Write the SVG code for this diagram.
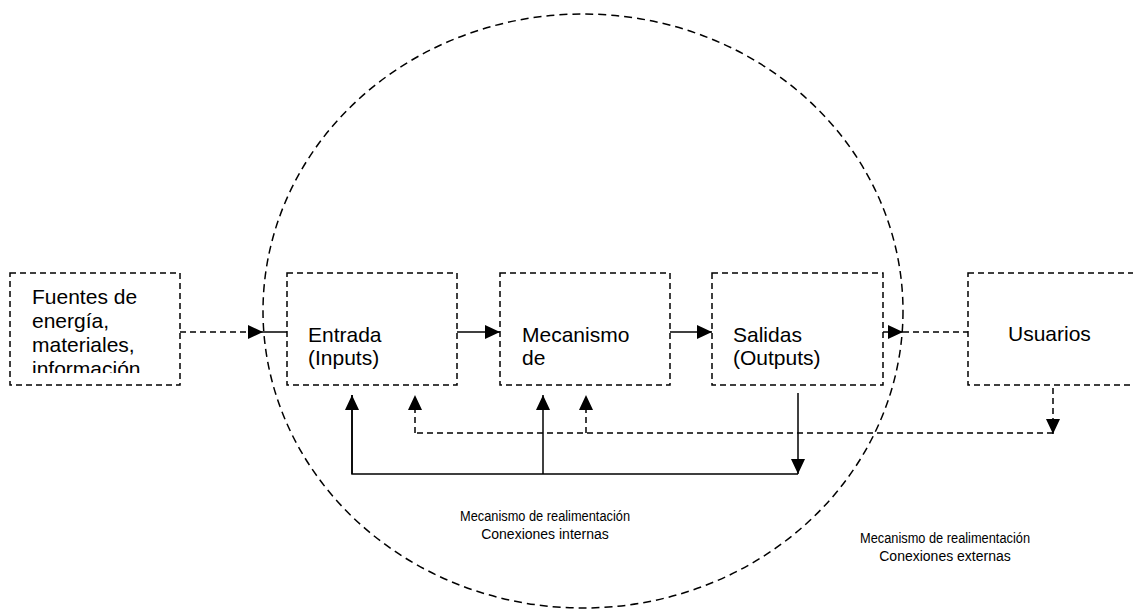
<svg xmlns="http://www.w3.org/2000/svg" width="1133" height="611" viewBox="0 0 1133 611">
<style>
.box{fill:none;stroke:#000;stroke-width:1.5;stroke-dasharray:6,4}
.t{font-family:"Liberation Sans",Arial,sans-serif;font-size:21px;fill:#000}
.s{font-family:"Liberation Sans",Arial,sans-serif;font-size:14px;fill:#000;text-anchor:middle}
.sol{fill:none;stroke:#000;stroke-width:1.5}
.dsh{fill:none;stroke:#000;stroke-width:1.5;stroke-dasharray:6,4}
</style>
<defs>
<marker id="ah" markerWidth="15" markerHeight="14" refX="15" refY="7" orient="auto" markerUnits="userSpaceOnUse">
<path d="M0,0 L15,7 L0,14 z" fill="#000"/>
</marker>
<clipPath id="cf"><rect x="10" y="273" width="170" height="100"/></clipPath>
</defs>
<rect width="1133" height="611" fill="#fff"/>
<g id="system">
<ellipse cx="583" cy="311" rx="320" ry="297" fill="none" stroke="#000" stroke-width="1.5" stroke-dasharray="8,5"/>
</g>
<g id="fuentes">
<rect class="box" x="10" y="273" width="170" height="112"/>
<g clip-path="url(#cf)">
<text class="t" x="32" y="304">Fuentes de</text>
<text class="t" x="32" y="328">energía,</text>
<text class="t" x="32" y="352">materiales,</text>
<text class="t" x="32" y="376">información</text>
</g>
</g>
<g id="entrada">
<rect class="box" x="287" y="273" width="170" height="112"/>
<text class="t" x="308" y="342">Entrada</text>
<text class="t" x="308" y="365">(Inputs)</text>
</g>
<g id="mecanismo">
<rect class="box" x="500" y="273" width="170" height="112"/>
<text class="t" x="522" y="342">Mecanismo</text>
<text class="t" x="522" y="365">de</text>
</g>
<g id="salidas">
<rect class="box" x="712" y="273" width="171" height="112"/>
<text class="t" x="733" y="342">Salidas</text>
<text class="t" x="733" y="365">(Outputs)</text>
</g>
<g id="usuarios">
<rect class="box" x="968" y="273" width="180" height="112"/>
<text class="t" x="1008" y="341">Usuarios</text>
</g>
<g id="connectors">
<line class="dsh" x1="180" y1="332" x2="263" y2="332" marker-end="url(#ah)"/>
<line class="sol" x1="263" y1="332" x2="287" y2="332"/>
<line class="sol" x1="457" y1="332" x2="500" y2="332" marker-end="url(#ah)"/>
<line class="sol" x1="670" y1="332" x2="712" y2="332" marker-end="url(#ah)"/>
<line class="sol" x1="883" y1="332" x2="903" y2="332" marker-end="url(#ah)"/>
<line class="dsh" x1="903" y1="332" x2="968" y2="332"/>
<line class="sol" x1="798" y1="393" x2="798" y2="474" marker-end="url(#ah)"/>
<polyline class="sol" points="352,395 352,474 798,474"/>
<line class="sol" x1="352" y1="474" x2="352" y2="395" marker-end="url(#ah)"/>
<line class="sol" x1="543" y1="474" x2="543" y2="395" marker-end="url(#ah)"/>
<line class="dsh" x1="1053" y1="388" x2="1053" y2="434" marker-end="url(#ah)"/>
<polyline class="dsh" points="1053,433 415,433"/>
<line class="dsh" x1="415" y1="433" x2="415" y2="395" marker-end="url(#ah)"/>
<line class="dsh" x1="586" y1="433" x2="586" y2="395" marker-end="url(#ah)"/>
</g>
<g id="labels">
<text class="s" x="545" y="521" textLength="170" lengthAdjust="spacingAndGlyphs">Mecanismo de realimentación</text>
<text class="s" x="545" y="539">Conexiones internas</text>
<text class="s" x="945" y="543" textLength="170" lengthAdjust="spacingAndGlyphs">Mecanismo de realimentación</text>
<text class="s" x="945" y="561">Conexiones externas</text>
</g>
</svg>
